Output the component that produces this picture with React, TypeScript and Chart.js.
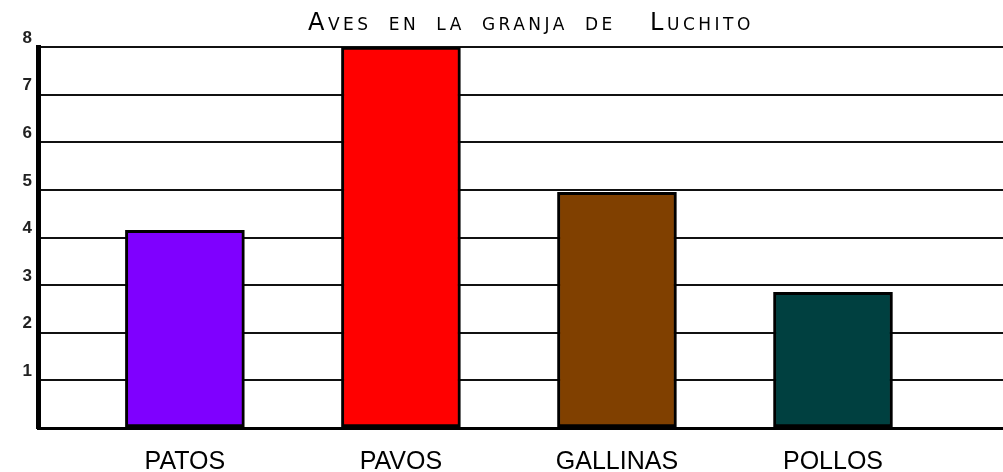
import React, { useEffect, useRef } from "react";
import { Chart, registerables } from "chart.js";

Chart.register(...registerables);

const titleText = "Aves en la granja de  Luchito";
const categories = ["PATOS", "PAVOS", "GALLINAS", "POLLOS"];
const values = [4.15, 8, 4.95, 2.85];
const barColors = ["#7F00FF", "#FF0000", "#804000", "#004040"];
const yMin = 0;
const yMax = 8;
const yStep = 1;

export default function App() {
  const canvasRef = useRef<HTMLCanvasElement | null>(null);

  useEffect(() => {
    const canvas = canvasRef.current;
    if (!canvas) return;
    Chart.defaults.font.family = "'Liberation Sans', Arial, sans-serif";
    const chart = new Chart(canvas, {
      type: "bar",
      data: {
        datasets: [
          {
            data: categories.map((c, i) => ({ x: i, y: values[i] })),
            backgroundColor: barColors,
            borderColor: "#000000",
            borderWidth: 3,
            borderSkipped: false,
            barThickness: 119,
          },
        ],
      },
      options: {
        responsive: false,
        animation: false,
        layout: { padding: { top: 47, right: 0, bottom: 0, left: 0 } },
        plugins: {
          legend: { display: false },
          title: { display: false },
          tooltip: { enabled: false },
        },
        scales: {
          x: {
            type: "linear",
            min: -0.68,
            max: 3.787,
            offset: false,
            afterBuildTicks: (scale: any) => {
              scale.ticks = categories.map((_, i) => ({ value: i }));
            },
            afterFit: (scale: any) => {
              scale.height = 44;
            },
            grid: { display: false, drawTicks: false },
            border: { display: true, color: "#000000", width: 3 },
            ticks: {
              autoSkip: false,
              maxRotation: 0,
              padding: 19,
              color: "#000000",
              font: { size: 25 },
              callback: (v: any) => categories[Math.round(Number(v))] ?? "",
            },
          },
          y: {
            min: yMin,
            max: yMax,
            afterFit: (scale: any) => {
              scale.width = 38;
            },
            grid: { color: "#111111", lineWidth: 2, drawTicks: false },
            border: { display: true, color: "#000000", width: 5 },
            ticks: {
              stepSize: yStep,
              padding: 6,
              labelOffset: -9,
              color: "#222222",
              font: { size: 17, weight: "bold" },
              callback: (v: any) => (Number(v) === 0 ? "" : String(v)),
            },
          },
        },
      },
    });
    return () => chart.destroy();
  }, []);

  return (
    <div style={{ position: "absolute", left: 0, top: 0, width: 1003, height: 472, background: "#ffffff" }}>
      <canvas ref={canvasRef} width={1003} height={472} style={{ position: "absolute", left: 0, top: 0 }} />
      <div
        style={{
          position: "absolute",
          left: 308,
          top: 10,
          fontFamily: "'DejaVu Sans', sans-serif",
          fontSize: 24,
          lineHeight: "24px",
          fontVariant: "small-caps",
          letterSpacing: "3.5px",
          wordSpacing: "6px",
          whiteSpace: "pre",
          color: "#000000",
        }}
      >
        {titleText}
      </div>
    </div>
  );
}
